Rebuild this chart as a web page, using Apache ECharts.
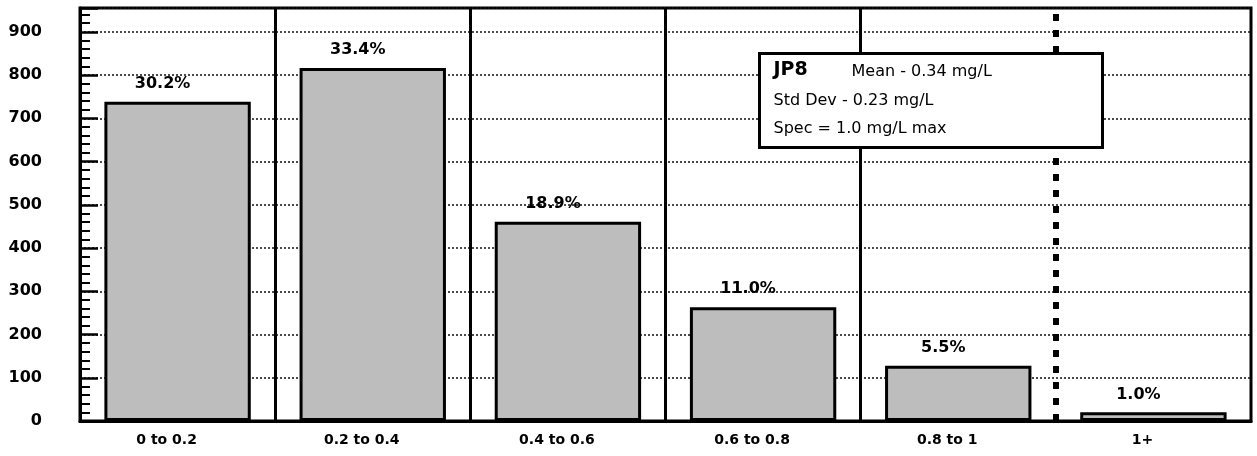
<!DOCTYPE html>
<html>
<head>
<meta charset="utf-8">
<script src="https://cdn.jsdelivr.net/npm/echarts@6/dist/echarts.min.js"></script>
<style>
html,body{margin:0;padding:0;background:#fff;}
#chart{width:1257px;height:456px;}
</style>
</head>
<body>
<div id="chart"></div>
<script>
const categories = ['0 to 0.2', '0.2 to 0.4', '0.4 to 0.6', '0.6 to 0.8', '0.8 to 1', '1+'];
const counts = [738, 816, 461, 263, 128, 20];
const percentLabels = ['30.2%', '33.4%', '18.9%', '11.0%', '5.5%', '1.0%'];
const yTicks = [0, 100, 200, 300, 400, 500, 600, 700, 800, 900];
const boundaries = [1, 2, 3, 4];
const specBoundary = 5;
const noteTitle = 'JP8';
const noteLines = ['Mean - 0.34 mg/L', 'Std Dev - 0.23 mg/L', 'Spec = 1.0 mg/L max'];

const chart = echarts.init(document.getElementById('chart'));
const FONT = '"DejaVu Sans", "Liberation Sans", Arial, sans-serif';

const markData = boundaries.map(b => ({ xAxis: b, lineStyle: { type: 'solid', width: 3, color: '#000' } }));
markData.push({ xAxis: specBoundary, lineStyle: { type: [7, 9], width: 6, color: '#000' } });

chart.setOption({
  backgroundColor: '#fff',
  animation: false,
  grid: { left: 80, right: 6, top: 8, bottom: 35, show: true, borderColor: '#000', borderWidth: 3, backgroundColor: 'transparent' },
  xAxis: [{
    type: 'category',
    data: categories,
    boundaryGap: true,
    axisLine: { lineStyle: { color: '#000', width: 3 } },
    axisTick: { show: false },
    splitLine: { show: false },
    axisLabel: { color: '#000', fontFamily: FONT, fontWeight: 'bold', fontSize: 14, margin: 12, padding: [0, 22, 0, 0] }
  }, {
    type: 'value',
    min: 0, max: 6,
    show: false
  }],
  yAxis: {
    type: 'value',
    min: 0, max: 955, interval: 100,
    axisLine: { show: true, lineStyle: { color: '#000', width: 3 } },
    axisTick: { show: true, inside: true, length: 18, lineStyle: { color: '#000', width: 2.5 } },
    minorTick: { show: true, splitNumber: 5, length: 10, lineStyle: { color: '#000', width: 2 } },
    splitLine: { show: true, lineStyle: { color: '#111', width: 1.5, type: [2, 2] } },
    axisLabel: {
      color: '#000', fontFamily: FONT, fontWeight: 'bold', fontSize: 16, margin: 38,
      showMaxLabel: false,
      formatter: v => (yTicks.indexOf(v) >= 0 ? String(v) : '')
    }
  },
  series: [{
    type: 'bar',
    data: counts,
    barWidth: '75%',
    itemStyle: { color: '#bdbdbd', borderColor: '#000', borderWidth: 3 },
    label: {
      show: true, position: 'top', distance: 10, offset: [-15, 0],
      color: '#000', fontFamily: FONT, fontWeight: 'bold', fontSize: 16,
      formatter: p => percentLabels[p.dataIndex]
    },
    z: 3
  }, {
    type: 'line',
    xAxisIndex: 1,
    yAxisIndex: 0,
    data: [],
    symbol: 'none',
    silent: true,
    z: 4,
    markLine: { silent: true, symbol: ['none', 'none'], label: { show: false }, data: markData, animation: false }
  }],
  graphic: [{
    type: 'group', left: 758, top: 52, z: 100,
    children: [
      { type: 'rect', z: 100, shape: { x: 0, y: 0, width: 343, height: 94 }, style: { fill: '#fff', stroke: '#000', lineWidth: 3 } },
      { type: 'text', z: 101, x: 14, y: 17, style: { text: noteTitle, font: 'bold 19px ' + FONT, fill: '#000', verticalAlign: 'middle' } },
      { type: 'text', z: 101, x: 92, y: 18, style: { text: noteLines[0], font: '16px ' + FONT, fill: '#000', verticalAlign: 'middle' } },
      { type: 'text', z: 101, x: 14, y: 47, style: { text: noteLines[1], font: '16px ' + FONT, fill: '#000', verticalAlign: 'middle' } },
      { type: 'text', z: 101, x: 14, y: 75, style: { text: noteLines[2], font: '16px ' + FONT, fill: '#000', verticalAlign: 'middle' } }
    ]
  }]
});
</script>
</body>
</html>
